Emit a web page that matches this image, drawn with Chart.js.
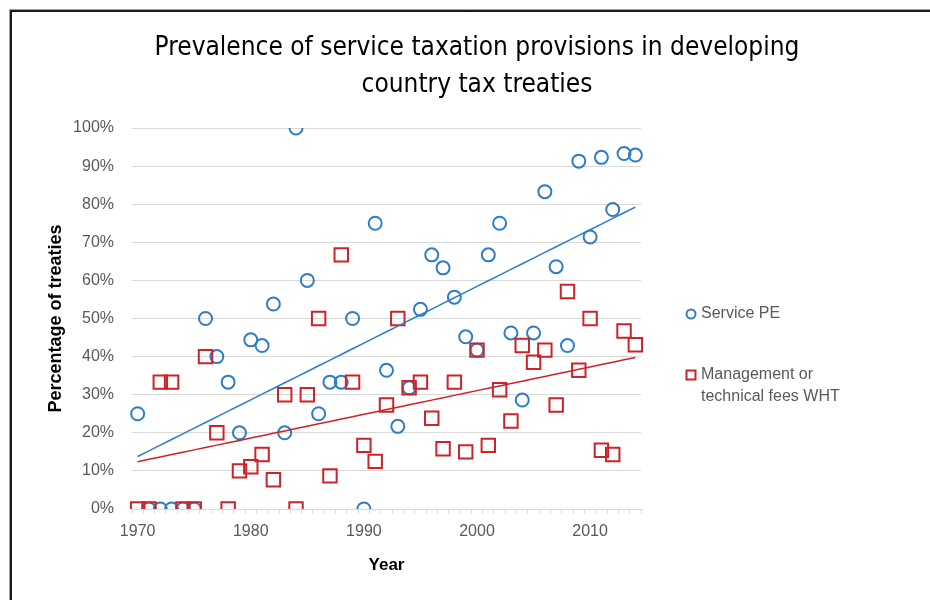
<!DOCTYPE html>
<html>
<head>
<meta charset="utf-8">
<script src="https://cdn.jsdelivr.net/npm/chart.js@4.4.1/dist/chart.umd.min.js"></script>
<style>
  html, body { margin: 0; padding: 0; background: #fff; }
  #chart { display: block; }
</style>
</head>
<body>
<canvas id="chart" width="930" height="600"></canvas>
<script>
// data (percent of treaties per year)
const years = [1970, 1971, 1972, 1973, 1974, 1975, 1976, 1977, 1978, 1979,
               1980, 1981, 1982, 1983, 1984, 1985, 1986, 1987, 1988, 1989,
               1990, 1991, 1992, 1993, 1994, 1995, 1996, 1997, 1998, 1999,
               2000, 2001, 2002, 2003, 2004, 2005, 2006, 2007, 2008, 2009,
               2010, 2011, 2012, 2013, 2014];

const servicePE = [25, 0, 0, 0, 0, 0, 50, 40, 33.3, 20,
                   44.4, 42.9, 53.8, 20, 100, 60, 25, 33.3, 33.3, 50,
                   0, 75, 36.4, 21.7, 31.8, 52.4, 66.7, 63.3, 55.6, 45.2,
                   41.7, 66.7, 75, 46.2, 28.6, 46.2, 83.3, 63.6, 42.9, 91.3,
                   71.4, 92.3, 78.6, 93.3, 92.9];

const mgmtFees = [0, 0, 33.3, 33.3, 0, 0, 40, 20, 0, 10,
                  11.1, 14.3, 7.7, 30, 0, 30, 50, 8.7, 66.7, 33.3,
                  16.7, 12.5, 27.3, 50, 31.8, 33.3, 23.8, 15.8, 33.3, 15,
                  41.7, 16.7, 31.3, 23.1, 42.9, 38.5, 41.7, 27.3, 57.1, 36.4,
                  50, 15.4, 14.3, 46.7, 43.1];

const titleLines = ['Prevalence of service taxation provisions in developing', 'country tax treaties'];
const legendItems = [
    { lines: ['Service PE'], color: '#2e7dc4', style: 'circle' },
    { lines: ['Management or', 'technical fees WHT'], color: '#cc2229', style: 'rect' }
];

const blue = '#2e7dc4';
const red = '#cc2229';
const gridColor = '#d9d9d9';
const labelColor = '#595959';

// least squares trend line, like the excel linear trendline
function trend(vals) {
    const n = vals.length;
    let sx = 0, sy = 0, sxy = 0, sxx = 0;
    vals.forEach(function (v, i) {
        sx += i; sy += v; sxy += i * v; sxx += i * i;
    });
    const b = (n * sxy - sx * sy) / (n * sxx - sx * sx);
    const a = (sy - b * sx) / n;
    return vals.map(function (v, i) { return a + b * i; });
}

const framePlugin = {
    id: 'frame',
    beforeDraw: function (chart) {
        const ctx = chart.ctx;
        ctx.save();
        ctx.fillStyle = '#fff';
        ctx.fillRect(0, 0, chart.width, chart.height);
        ctx.strokeStyle = '#a0a0a0';
        ctx.lineWidth = 1;
        ctx.beginPath();
        ctx.moveTo(9.5, chart.height); ctx.lineTo(9.5, 9.5); ctx.lineTo(chart.width, 9.5);
        ctx.stroke();
        ctx.strokeStyle = '#1a1a1a';
        ctx.lineWidth = 2;
        ctx.beginPath();
        ctx.moveTo(11, chart.height); ctx.lineTo(11, 11); ctx.lineTo(chart.width, 11);
        ctx.stroke();
        ctx.restore();
    },
    afterDraw: function (chart) {
        const ctx = chart.ctx;
        ctx.save();
        // title
        ctx.fillStyle = '#000';
        ctx.textAlign = 'center';
        ctx.textBaseline = 'middle';
        ctx.font = '26px "Liberation Sans Narrow", "DejaVu Sans Condensed", "Liberation Sans", sans-serif';
        ctx.fillText(titleLines[0], 477, 48);
        ctx.fillText(titleLines[1], 477, 85);

        // legend
        ctx.textAlign = 'left';
        ctx.font = '16px "Liberation Sans", sans-serif';
        const rows = [314, 375];
        legendItems.forEach(function (item, i) {
            const y = rows[i];
            ctx.strokeStyle = item.color;
            ctx.lineWidth = 2;
            ctx.beginPath();
            if (item.style === 'circle') {
                ctx.arc(691, y, 4.5, 0, Math.PI * 2);
            } else {
                ctx.rect(686.5, y - 4.5, 9, 9);
            }
            ctx.stroke();
            ctx.fillStyle = labelColor;
            item.lines.forEach(function (line, j) {
                ctx.fillText(line, 701, y + j * 22);
            });
        });
        ctx.restore();
    }
};

const ctx = document.getElementById('chart').getContext('2d');
const myChart = new Chart(ctx, {
    type: 'line',
    data: {
        labels: years,
        datasets: [
            {
                label: 'Service PE trend',
                data: trend(servicePE),
                borderColor: blue,
                borderWidth: 1.5,
                pointRadius: 0,
                order: 0
            },
            {
                label: 'Management or technical fees WHT trend',
                data: trend(mgmtFees),
                borderColor: red,
                borderWidth: 1.5,
                pointRadius: 0,
                order: 0
            },
            {
                label: 'Management or technical fees WHT',
                data: mgmtFees,
                showLine: false,
                pointStyle: 'rect',
                pointRadius: 9.5,
                pointBorderWidth: 2,
                pointBorderColor: red,
                pointBackgroundColor: 'rgba(255,255,255,0)',
                order: 1
            },
            {
                label: 'Service PE',
                data: servicePE,
                showLine: false,
                pointStyle: 'circle',
                pointRadius: 6.5,
                pointBorderWidth: 2,
                pointBorderColor: blue,
                pointBackgroundColor: 'rgba(255,255,255,0)',
                order: 2
            }
        ]
    },
    options: {
        responsive: false,
        animation: false,
        devicePixelRatio: 1,
        layout: { padding: { top: 128, right: 289, bottom: 0, left: 0 } },
        plugins: {
            legend: { display: false },
            title: { display: false },
            tooltip: { enabled: false }
        },
        scales: {
            x: {
                type: 'category',
                offset: true,
                afterFit: function (scale) { scale.height = 91; },
                grid: {
                    offset: true,
                    drawOnChartArea: false,
                    drawTicks: true,
                    tickLength: 5,
                    color: gridColor
                },
                border: { display: true, color: gridColor, width: 1 },
                ticks: {
                    autoSkip: false,
                    maxRotation: 0,
                    padding: 8,
                    color: labelColor,
                    font: { family: '"Liberation Sans", sans-serif', size: 16 },
                    callback: function (v, i) {
                        return years[i] % 10 === 0 ? String(years[i]) : '';
                    }
                },
                title: {
                    display: true,
                    text: 'Year',
                    color: '#000',
                    font: { family: '"Liberation Sans", sans-serif', size: 17, weight: 'bold' },
                    padding: { top: 0, bottom: 24 }
                }
            },
            y: {
                min: 0,
                max: 100,
                afterFit: function (scale) { scale.width = 132; },
                grid: { color: gridColor, drawTicks: false },
                border: { display: false },
                ticks: {
                    stepSize: 10,
                    padding: 18,
                    color: labelColor,
                    font: { family: '"Liberation Sans", sans-serif', size: 16 },
                    callback: function (v) { return v + '%'; }
                },
                title: {
                    display: true,
                    text: 'Percentage of treaties',
                    color: '#000',
                    font: { family: '"Liberation Sans", sans-serif', size: 18, weight: 'bold' },
                    padding: { top: 45, bottom: 0 }
                }
            }
        }
    },
    plugins: [framePlugin]
});
</script>
</body>
</html>
